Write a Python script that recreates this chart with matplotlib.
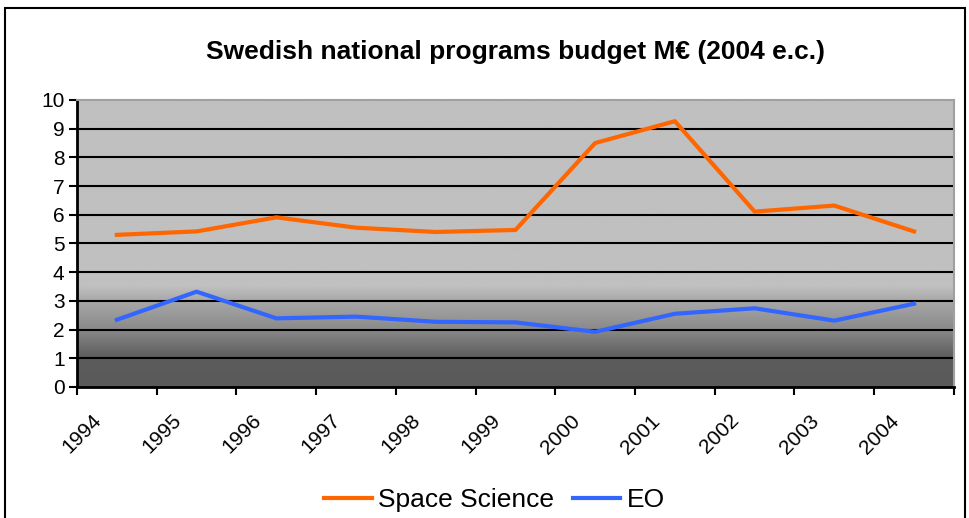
import numpy as np
import matplotlib
matplotlib.use("Agg")
import matplotlib.pyplot as plt
import matplotlib.transforms as mtransforms
from matplotlib.patches import Rectangle
from matplotlib.colors import LinearSegmentedColormap

plt.rcParams['font.family'] = ['Liberation Sans', 'DejaVu Sans']

years = ['1994', '1995', '1996', '1997', '1998', '1999', '2000', '2001', '2002', '2003', '2004']
space_science = [5.3, 5.42, 5.91, 5.55, 5.4, 5.47, 8.5, 9.26, 6.11, 6.32, 5.42]
eo = [2.34, 3.32, 2.39, 2.45, 2.27, 2.25, 1.92, 2.55, 2.74, 2.31, 2.9]

fig = plt.figure(figsize=(9.70, 5.18), dpi=100)
ax = fig.add_axes([0.0794, 0.253, 0.904, 0.554])

# frame around the whole chart (bottom runs off the image)
fig.patches.append(Rectangle((0.005, -0.1), 0.99, 1.085, transform=fig.transFigure,
                             fill=False, edgecolor='black', linewidth=1.5))

n = len(years)
x = np.arange(n) + 0.5

# background gradient: light gray on top, dark near zero
bg = LinearSegmentedColormap.from_list('bg', [(0.0, '#5a5a5a'), (0.1, '#5c5c5c'),
                                              (0.2, '#8a8a8a'), (0.3, '#a8a8a8'),
                                              (0.35, '#c0c0c0'), (1.0, '#c0c0c0')])
grad = np.linspace(0, 1, 256).reshape(-1, 1)
ax.imshow(grad, cmap=bg, origin='lower', extent=[0, n, 0, 10], aspect='auto', zorder=0)

for v in range(1, 10):
    ax.axhline(v, color='black', linewidth=1.5, zorder=1)

ax.plot(x, space_science, color='#FF6600', linewidth=3, label='Space Science', zorder=3)
ax.plot(x, eo, color='#3366FF', linewidth=3, label='EO', zorder=3)

ax.set_xlim(0, n)
ax.set_ylim(0, 10)
ax.set_yticks(range(0, 11))
ax.set_xticks(range(0, n + 1))
ax.set_xticklabels([])
ax.tick_params(axis='x', length=6, width=1.5, direction='out')
ax.tick_params(axis='y', length=6, width=1.5, direction='out', labelsize=15, pad=3)

# year labels, rotated like the Excel original
lab_tr = ax.get_xaxis_transform() + mtransforms.ScaledTranslation(-0.25, -0.24, fig.dpi_scale_trans)
for xi, yr in zip(x, years):
    ax.text(xi, 0, yr, transform=lab_tr, rotation=45, ha='right', va='top',
            rotation_mode='anchor', fontsize=15)

for s in ['left', 'bottom']:
    ax.spines[s].set_linewidth(2)
    ax.spines[s].set_color('black')
for s in ['top', 'right']:
    ax.spines[s].set_linewidth(1.5)
    ax.spines[s].set_color('#a0a0a0')

fig.text(0.531, 0.9, 'Swedish national programs budget M€ (2004 e.c.)',
         ha='center', va='center', fontsize=19, fontweight='bold')

fig.legend(loc='center', bbox_to_anchor=(0.51, 0.035), ncol=2, frameon=False,
           fontsize=19, handlelength=1.8, columnspacing=0.7, handletextpad=0.25)

fig.savefig('out.png', dpi=100)
